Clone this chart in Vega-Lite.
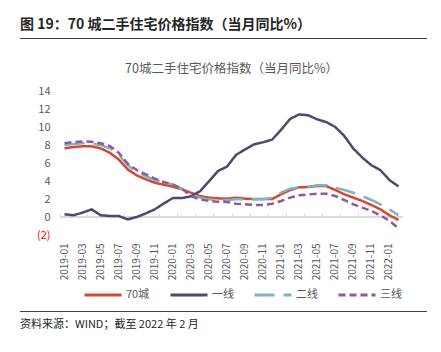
{
"$schema": "https://vega.github.io/schema/vega-lite/v6.json",
"padding": {"left": 20, "top": 18, "right": 14, "bottom": 10},
"config": {"font": "Noto Sans CJK SC", "view": {"stroke": null}, "axis": {"labelOverlap": false}},
"title": {"text": "图 19：70 城二手住宅价格指数（当月同比%）", "anchor": "start", "fontSize": 14, "fontWeight": "bold", "color": "#262626", "font": "Noto Sans CJK SC", "offset": 6},
"spacing": 10,
"resolve": {"scale": {"x": "independent", "y": "independent", "color": "independent", "strokeDash": "independent"}, "legend": {"color": "independent", "strokeDash": "independent"}},
"vconcat": [
{
"width": 343, "height": 14,
"data": {"values": [{"line": "top"}]},
"mark": {"type": "rect", "color": "#404040", "clip": false},
"encoding": {
"x": {"datum": -40, "type": "quantitative", "scale": {"domain": [0, 343], "nice": false, "zero": false}, "axis": null},
"x2": {"datum": 367},
"y": {"value": 0},
"y2": {"value": 1}
}
},
{
"width": 343, "height": 144,
"title": {"text": "70城二手住宅价格指数（当月同比%）", "fontSize": 12.5, "fontWeight": "normal", "color": "#595959", "anchor": "middle", "offset": 10},
"data": {"values": [
{"month":"2019-01","series":"70城","value":7.63},{"month":"2019-02","series":"70城","value":7.78},{"month":"2019-03","series":"70城","value":7.85},{"month":"2019-04","series":"70城","value":7.85},{"month":"2019-05","series":"70城","value":7.63},{"month":"2019-06","series":"70城","value":7.15},{"month":"2019-07","series":"70城","value":6.4},{"month":"2019-08","series":"70城","value":5.29},{"month":"2019-09","series":"70城","value":4.63},{"month":"2019-10","series":"70城","value":4.19},{"month":"2019-11","series":"70城","value":3.81},{"month":"2019-12","series":"70城","value":3.59},{"month":"2020-01","series":"70城","value":3.37},{"month":"2020-02","series":"70城","value":3.1},{"month":"2020-03","series":"70城","value":2.7},{"month":"2020-04","series":"70城","value":2.33},{"month":"2020-05","series":"70城","value":2.15},{"month":"2020-06","series":"70城","value":2.07},{"month":"2020-07","series":"70城","value":2.04},{"month":"2020-08","series":"70城","value":2.15},{"month":"2020-09","series":"70城","value":2.04},{"month":"2020-10","series":"70城","value":2.0},{"month":"2020-11","series":"70城","value":2.0},{"month":"2020-12","series":"70城","value":2.0},{"month":"2021-01","series":"70城","value":2.52},{"month":"2021-02","series":"70城","value":3.0},{"month":"2021-03","series":"70城","value":3.3},{"month":"2021-04","series":"70城","value":3.33},{"month":"2021-05","series":"70城","value":3.44},{"month":"2021-06","series":"70城","value":3.44},{"month":"2021-07","series":"70城","value":3.0},{"month":"2021-08","series":"70城","value":2.52},{"month":"2021-09","series":"70城","value":2.15},{"month":"2021-10","series":"70城","value":1.78},{"month":"2021-11","series":"70城","value":1.33},{"month":"2021-12","series":"70城","value":0.85},{"month":"2022-01","series":"70城","value":0.19},{"month":"2022-02","series":"70城","value":-0.33},
{"month":"2019-01","series":"一线","value":0.3},{"month":"2019-02","series":"一线","value":0.2},{"month":"2019-03","series":"一线","value":0.48},{"month":"2019-04","series":"一线","value":0.85},{"month":"2019-05","series":"一线","value":0.2},{"month":"2019-06","series":"一线","value":0.11},{"month":"2019-07","series":"一线","value":0.11},{"month":"2019-08","series":"一线","value":-0.26},{"month":"2019-09","series":"一线","value":0.0},{"month":"2019-10","series":"一线","value":0.4},{"month":"2019-11","series":"一线","value":0.85},{"month":"2019-12","series":"一线","value":1.5},{"month":"2020-01","series":"一线","value":2.1},{"month":"2020-02","series":"一线","value":2.1},{"month":"2020-03","series":"一线","value":2.3},{"month":"2020-04","series":"一线","value":2.85},{"month":"2020-05","series":"一线","value":3.96},{"month":"2020-06","series":"一线","value":5.1},{"month":"2020-07","series":"一线","value":5.6},{"month":"2020-08","series":"一线","value":6.9},{"month":"2020-09","series":"一线","value":7.5},{"month":"2020-10","series":"一线","value":8.07},{"month":"2020-11","series":"一线","value":8.3},{"month":"2020-12","series":"一线","value":8.6},{"month":"2021-01","series":"一线","value":9.7},{"month":"2021-02","series":"一线","value":10.9},{"month":"2021-03","series":"一线","value":11.4},{"month":"2021-04","series":"一线","value":11.3},{"month":"2021-05","series":"一线","value":10.85},{"month":"2021-06","series":"一线","value":10.55},{"month":"2021-07","series":"一线","value":10.0},{"month":"2021-08","series":"一线","value":9.0},{"month":"2021-09","series":"一线","value":7.6},{"month":"2021-10","series":"一线","value":6.6},{"month":"2021-11","series":"一线","value":5.75},{"month":"2021-12","series":"一线","value":5.2},{"month":"2022-01","series":"一线","value":4.1},{"month":"2022-02","series":"一线","value":3.4},
{"month":"2019-01","series":"二线","value":8.0},{"month":"2019-02","series":"二线","value":8.1},{"month":"2019-03","series":"二线","value":8.2},{"month":"2019-04","series":"二线","value":8.15},{"month":"2019-05","series":"二线","value":8.0},{"month":"2019-06","series":"二线","value":7.63},{"month":"2019-07","series":"二线","value":6.96},{"month":"2019-08","series":"二线","value":5.74},{"month":"2019-09","series":"二线","value":5.0},{"month":"2019-10","series":"二线","value":4.55},{"month":"2019-11","series":"二线","value":4.11},{"month":"2019-12","series":"二线","value":3.81},{"month":"2020-01","series":"二线","value":3.63},{"month":"2020-02","series":"二线","value":3.15},{"month":"2020-03","series":"二线","value":2.52},{"month":"2020-04","series":"二线","value":2.15},{"month":"2020-05","series":"二线","value":1.96},{"month":"2020-06","series":"二线","value":1.89},{"month":"2020-07","series":"二线","value":1.89},{"month":"2020-08","series":"二线","value":1.96},{"month":"2020-09","series":"二线","value":1.96},{"month":"2020-10","series":"二线","value":1.96},{"month":"2020-11","series":"二线","value":1.96},{"month":"2020-12","series":"二线","value":2.15},{"month":"2021-01","series":"二线","value":2.7},{"month":"2021-02","series":"二线","value":3.15},{"month":"2021-03","series":"二线","value":3.33},{"month":"2021-04","series":"二线","value":3.37},{"month":"2021-05","series":"二线","value":3.52},{"month":"2021-06","series":"二线","value":3.52},{"month":"2021-07","series":"二线","value":3.26},{"month":"2021-08","series":"二线","value":3.0},{"month":"2021-09","series":"二线","value":2.7},{"month":"2021-10","series":"二线","value":2.33},{"month":"2021-11","series":"二线","value":1.89},{"month":"2021-12","series":"二线","value":1.41},{"month":"2022-01","series":"二线","value":0.85},{"month":"2022-02","series":"二线","value":0.19},
{"month":"2019-01","series":"三线","value":8.2},{"month":"2019-02","series":"三线","value":8.33},{"month":"2019-03","series":"三线","value":8.4},{"month":"2019-04","series":"三线","value":8.37},{"month":"2019-05","series":"三线","value":8.2},{"month":"2019-06","series":"三线","value":7.9},{"month":"2019-07","series":"三线","value":7.15},{"month":"2019-08","series":"三线","value":5.93},{"month":"2019-09","series":"三线","value":5.22},{"month":"2019-10","series":"三线","value":4.74},{"month":"2019-11","series":"三线","value":4.26},{"month":"2019-12","series":"三线","value":3.89},{"month":"2020-01","series":"三线","value":3.6},{"month":"2020-02","series":"三线","value":3.15},{"month":"2020-03","series":"三线","value":2.33},{"month":"2020-04","series":"三线","value":1.96},{"month":"2020-05","series":"三线","value":1.78},{"month":"2020-06","series":"三线","value":1.7},{"month":"2020-07","series":"三线","value":1.67},{"month":"2020-08","series":"三线","value":1.48},{"month":"2020-09","series":"三线","value":1.41},{"month":"2020-10","series":"三线","value":1.33},{"month":"2020-11","series":"三线","value":1.33},{"month":"2020-12","series":"三线","value":1.48},{"month":"2021-01","series":"三线","value":1.78},{"month":"2021-02","series":"三线","value":2.15},{"month":"2021-03","series":"三线","value":2.41},{"month":"2021-04","series":"三线","value":2.5},{"month":"2021-05","series":"三线","value":2.59},{"month":"2021-06","series":"三线","value":2.59},{"month":"2021-07","series":"三线","value":2.33},{"month":"2021-08","series":"三线","value":1.89},{"month":"2021-09","series":"三线","value":1.41},{"month":"2021-10","series":"三线","value":1.04},{"month":"2021-11","series":"三线","value":0.67},{"month":"2021-12","series":"三线","value":0.19},{"month":"2022-01","series":"三线","value":-0.44},{"month":"2022-02","series":"三线","value":-1.26}
]},
"layer": [
{
"mark": {"type": "rule", "color": "#D9D9D9", "strokeWidth": 1},
"encoding": {
"y": {"datum": 0, "type": "quantitative", "scale": {"domain": [-2, 14], "nice": false, "zero": false},
"axis": {"title": null, "values": [-2,0,2,4,6,8,10,12,14], "labelOverlap": false, "domain": false, "ticks": false, "grid": false, "labelPadding": 10, "labelFontSize": 11, "labelColor": {"condition": {"test": "datum.value < 0", "value": "#FF0000"}, "value": "#595959"}, "labelExpr": "datum.value < 0 ? '(' + abs(datum.value) + ')' : datum.label"}}
}
},
{
"mark": {"type": "point", "opacity": 0},
"encoding": {
"x": {"field": "month", "type": "ordinal", "scale": {"type": "band", "paddingInner": 0, "paddingOuter": 0},
"axis": {"orient": "top", "offset": -126, "labels": false, "title": null, "domain": false, "ticks": true, "tickColor": "#D9D9D9", "tickSize": 4, "tickBand": "extent", "grid": false,
"values": ["2019-01","2019-03","2019-05","2019-07","2019-09","2019-11","2020-01","2020-03","2020-05","2020-07","2020-09","2020-11","2021-01","2021-03","2021-05","2021-07","2021-09","2021-11","2022-01"]}},
"y": {"field": "value", "type": "quantitative",
"axis": {"title": null, "values": [-2,0,2,4,6,8,10,12,14], "labelOverlap": false, "domain": false, "ticks": false, "grid": false, "labelPadding": 10, "labelFontSize": 11, "labelColor": {"condition": {"test": "datum.value < 0", "value": "#FF0000"}, "value": "#595959"}, "labelExpr": "datum.value < 0 ? '(' + abs(datum.value) + ')' : datum.label"}}
}
},
{
"mark": {"type": "line", "strokeWidth": 2.5},
"encoding": {
"x": {"field": "month", "type": "ordinal",
"axis": {"orient": "bottom", "title": null, "domain": false, "ticks": false, "grid": false, "labelAngle": -90, "labelFontSize": 10, "labelColor": "#595959", "labelPadding": 8, "labelOverlap": false,
"values": ["2019-01","2019-03","2019-05","2019-07","2019-09","2019-11","2020-01","2020-03","2020-05","2020-07","2020-09","2020-11","2021-01","2021-03","2021-05","2021-07","2021-09","2021-11","2022-01"]}},
"y": {"field": "value", "type": "quantitative",
"axis": {"title": null, "values": [-2,0,2,4,6,8,10,12,14], "labelOverlap": false, "domain": false, "ticks": false, "grid": false, "labelPadding": 10, "labelFontSize": 11, "labelColor": {"condition": {"test": "datum.value < 0", "value": "#FF0000"}, "value": "#595959"}, "labelExpr": "datum.value < 0 ? '(' + abs(datum.value) + ')' : datum.label"}},
"color": {"field": "series", "type": "nominal", "sort": ["70城","一线","二线","三线"],
"scale": {"domain": ["70城","一线","二线","三线"], "range": ["#D7472A","#4B4B6F","#80B1CB","#8B5B9C"]},
"legend": {"orient": "none", "legendX": 23, "legendY": 184, "direction": "horizontal", "title": null, "symbolType": "stroke", "symbolSize": 1369, "symbolStrokeWidth": 3, "labelFontSize": 11, "labelColor": "#595959", "columnPadding": 14, "labelOffset": 3, "padding": 0}},
"strokeDash": {"field": "series", "type": "nominal", "sort": ["70城","一线","二线","三线"],
"scale": {"domain": ["70城","一线","二线","三线"], "range": [[1,0],[1,0],[20,9],[7,4]]},
"legend": {"orient": "none", "legendX": 23, "legendY": 184, "direction": "horizontal", "title": null, "symbolType": "stroke", "symbolSize": 1369, "symbolStrokeWidth": 3, "labelFontSize": 11, "labelColor": "#595959", "columnPadding": 14, "labelOffset": 3, "padding": 0}}
}
}
],
"resolve": {"axis": {"x": "independent"}}
},
{
"width": 343, "height": 1,
"title": {"text": "资料来源：WIND；截至 2022 年 2 月", "orient": "bottom", "anchor": "start", "fontSize": 11, "fontWeight": "normal", "color": "#262626", "offset": 7},
"data": {"values": [{"line": "bottom"}]},
"mark": {"type": "rect", "color": "#404040", "clip": false},
"encoding": {
"x": {"datum": -40, "type": "quantitative", "scale": {"domain": [0, 343], "nice": false, "zero": false}, "axis": null},
"x2": {"datum": 367},
"y": {"value": 0},
"y2": {"value": 1}
}
}
]
}
